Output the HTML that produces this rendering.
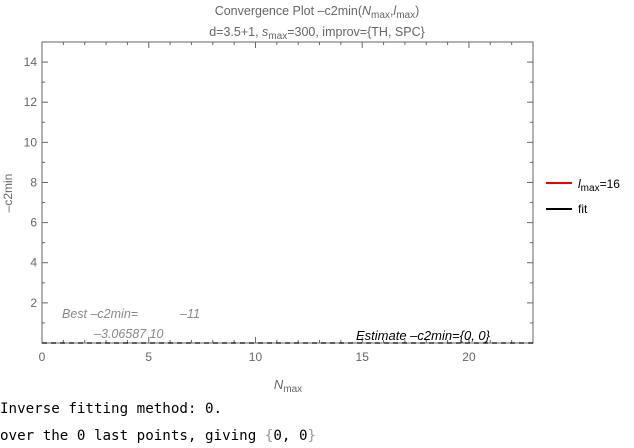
<!DOCTYPE html>
<html><head><meta charset="utf-8"><style>
body{margin:0;width:634px;height:448px;background:#fff;overflow:hidden;position:relative}
svg{position:absolute;left:0;top:0}
.mono{position:absolute;left:0;font-family:"DejaVu Sans Mono","Liberation Mono",monospace;font-size:14.2px;color:#000}
</style></head><body>
<svg id="chart" width="634" height="400" font-family="Liberation Sans, sans-serif"></svg>
<div class="mono" style="top:401px">Inverse fitting method: 0.</div>
<div class="mono" style="top:428px">over the 0 last points, giving <span style="color:#999">{</span>0, 0<span style="color:#999">}</span></div>
<script>
const xTicks=[0,5,10,15,20];
const yTicks=[2,4,6,8,10,12,14];
const xRange=[0,23];
const yRange=[0,15];
const fitX=[0,23];
const fitY=[0,0];
const L=42,R=533,T=42,B=343;
const sx=v=>L+(v-xRange[0])/(xRange[1]-xRange[0])*(R-L);
const sy=v=>B-(v-yRange[0])/(yRange[1]-yRange[0])*(B-T);
const svg=document.getElementById('chart');
const NS='http://www.w3.org/2000/svg';
function mk(tag,attrs,parent){const e=document.createElementNS(NS,tag);for(const k in attrs)e.setAttribute(k,attrs[k]);(parent||svg).appendChild(e);return e;}
let f=mk('rect',{x:L,y:T,width:R-L,height:B-T,fill:'none',stroke:'#666','stroke-width':1});


for(let v=0;v<=23;v++){const x=sx(v),len=(v%5===0)?6:3;
 mk('line',{x1:x,y1:B,x2:x,y2:B-len,stroke:'#666'});mk('line',{x1:x,y1:T,x2:x,y2:T+len,stroke:'#666'});}
for(let v=1;v<=15;v++){const y=sy(v),len=(v%2===0)?6:3;
 mk('line',{x1:L,y1:y,x2:L+len,y2:y,stroke:'#666'});mk('line',{x1:R,y1:y,x2:R-len,y2:y,stroke:'#666'});}
xTicks.forEach(v=>{const t=mk('text',{x:sx(v),y:B+18,'text-anchor':'middle','font-size':12,fill:'#666'});t.textContent=v;
 
 });
yTicks.forEach(v=>{const t=mk('text',{x:L-5,y:sy(v)+4,'text-anchor':'end','font-size':12,fill:'#666'});t.textContent=v;
 
 });
let fit=mk('line',{x1:sx(fitX[0]),y1:sy(fitY[0]),x2:sx(fitX[1]),y2:sy(fitY[1]),stroke:'#000','stroke-width':1.2,'stroke-dasharray':'5,4'});


function txt(x,y,html,attrs,name){const t=mk('text',Object.assign({x:x,y:y},attrs));t.innerHTML=html;
 
 return t;}
txt(317,15,'Convergence Plot –c2min(<tspan font-style="italic">N</tspan><tspan font-size="10" dy="3">max</tspan><tspan dy="-3">,</tspan><tspan font-style="italic">l</tspan><tspan font-size="10" dy="3">max</tspan><tspan dy="-3">)</tspan>',{'text-anchor':'middle','font-size':12.5,fill:'#666'},'chart-title');
txt(317,36,'d=3.5+1, <tspan font-style="italic">s</tspan><tspan font-size="10" dy="3">max</tspan><tspan dy="-3">=300, improv={TH, SPC}</tspan>',{'text-anchor':'middle','font-size':12.5,fill:'#666'},'chart-subtitle');
txt(288,389,'<tspan font-style="italic">N</tspan><tspan font-size="10" dy="3">max</tspan>',{'text-anchor':'middle','font-size':13,fill:'#666'},'x-axis-title');
txt(12,193,'–c2min',{'text-anchor':'middle','font-size':12,fill:'#666',transform:'rotate(-90 12 193)'},'y-axis-title');
txt(62,318,'Best –c2min=',{'font-size':12.5,fill:'#888','font-style':'italic'},'best-label');
txt(180,318,'–11',{'font-size':12.5,fill:'#888','font-style':'italic'},'best-exponent');
txt(94,338,'–3.06587 10',{'font-size':12.5,fill:'#888','font-style':'italic'},'best-value');
txt(356,340,'Estimate –c2min={0, 0}',{'font-size':13,fill:'#000','font-style':'italic','textLength':134},'estimate-label');
let l1=mk('line',{x1:546,y1:183,x2:572,y2:183,stroke:'#e00','stroke-width':2});


txt(578,188,'<tspan font-style="italic">l</tspan><tspan font-size="10" dy="3">max</tspan><tspan dy="-3">=16</tspan>',{'font-size':12,fill:'#000'},'legend-lmax-label');
let l2=mk('line',{x1:546,y1:209,x2:572,y2:209,stroke:'#000','stroke-width':2});


txt(578,213,'fit',{'font-size':12,fill:'#000'},'legend-fit-label');
</script>
</body></html>
